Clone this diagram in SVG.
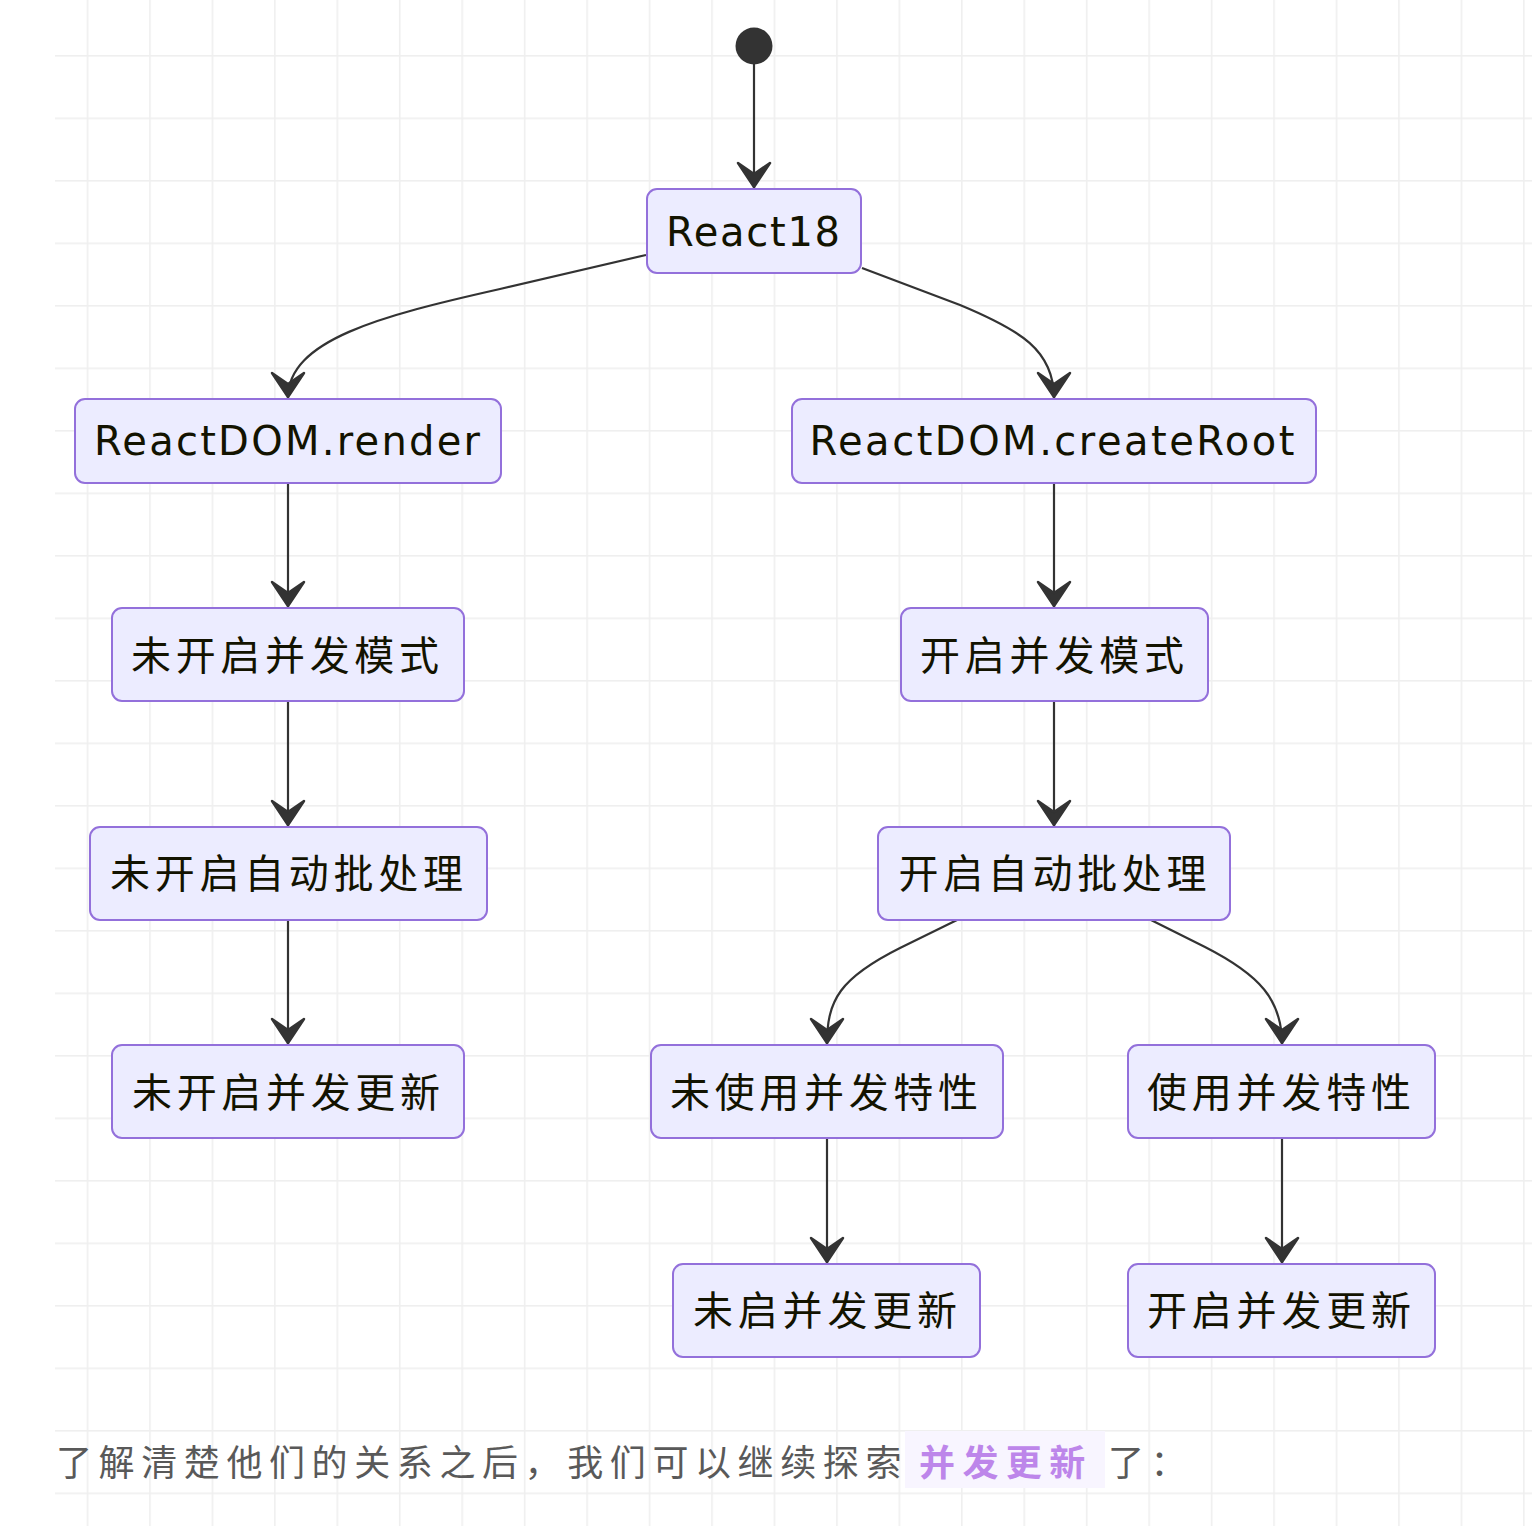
<svg xmlns="http://www.w3.org/2000/svg" width="1532" height="1526" viewBox="0 0 1532 1526">
<style>
.node rect{fill:#ececff;stroke:#9370db;stroke-width:2}
.lt{font-family:"DejaVu Sans","Noto Sans CJK SC",sans-serif;font-size:40px;fill:#131300}
.ct{font-family:"Noto Sans CJK SC",sans-serif;font-size:40px;fill:#131300}
.edge{fill:none;stroke:#333;stroke-width:2.2}
.foot{font-family:"Noto Sans CJK SC",sans-serif;font-size:36px;fill:#595959;letter-spacing:6.6px}
</style>
<defs>
<pattern id="grid" patternUnits="userSpaceOnUse" x="24.25" y="-7.5" width="62.45" height="62.5">
<rect x="0" y="0" width="1.6" height="62.5" fill="#efefef"/>
<rect x="0" y="0" width="62.45" height="1.6" fill="#efefef"/>
</pattern>
<marker id="arr" markerUnits="userSpaceOnUse" viewBox="-32 -22 36 44" refX="0" refY="0" markerWidth="36" markerHeight="44" orient="auto" overflow="visible">
<path d="M-1,0 L-25,-16 L-14,0 L-25,16 Z" fill="#333" stroke="#333" stroke-width="2.5" stroke-linejoin="round"/>
</marker>
</defs>
<rect width="1532" height="1526" fill="#ffffff"/>
<rect x="55" y="0" width="1477" height="1526" fill="url(#grid)"/>

<g id="connectors">
<path class="edge" d="M754,60 L754,188" marker-end="url(#arr)"/>
<path class="edge" d="M646,255 L500,289 C380,316 288,340 288,398" marker-end="url(#arr)"/>
<path class="edge" d="M862,268 L960,305 C1020,330 1054,350 1054,398" marker-end="url(#arr)"/>
<path class="edge" d="M288,484 L288,607" marker-end="url(#arr)"/>
<path class="edge" d="M288,702 L288,826" marker-end="url(#arr)"/>
<path class="edge" d="M288,921 L288,1044" marker-end="url(#arr)"/>
<path class="edge" d="M1054,484 L1054,607" marker-end="url(#arr)"/>
<path class="edge" d="M1054,702 L1054,826" marker-end="url(#arr)"/>
<path class="edge" d="M957,920 L900,948 C840,978 827,1000 827,1044" marker-end="url(#arr)"/>
<path class="edge" d="M1151,920 L1205,947 C1260,975 1282,1000 1282,1044" marker-end="url(#arr)"/>
<path class="edge" d="M827,1139 L827,1263" marker-end="url(#arr)"/>
<path class="edge" d="M1282,1139 L1282,1263" marker-end="url(#arr)"/>
</g>

<g id="start"><circle cx="754" cy="46" r="18.5" fill="#333"/></g>

<g id="react18" class="node">
<rect x="647" y="189" width="214" height="84" rx="10"/>
<text class="lt" x="753" y="246" text-anchor="middle" textLength="174" lengthAdjust="spacing">React18</text>
</g>
<g id="render" class="node">
<rect x="75" y="399" width="426" height="84" rx="10"/>
<text class="lt" x="287" y="455" text-anchor="middle" textLength="386" lengthAdjust="spacing">ReactDOM.render</text>
</g>
<g id="createRoot" class="node">
<rect x="792" y="399" width="524" height="84" rx="10"/>
<text class="lt" x="1052" y="455" text-anchor="middle" textLength="485" lengthAdjust="spacing">ReactDOM.createRoot</text>
</g>
<g id="noConcMode" class="node">
<rect x="112" y="608" width="352" height="93" rx="10"/>
<text class="ct" x="285" y="653" dominant-baseline="central" text-anchor="middle" textLength="308" lengthAdjust="spacing">未开启并发模式</text>
</g>
<g id="concMode" class="node">
<rect x="901" y="608" width="307" height="93" rx="10"/>
<text class="ct" x="1052" y="653" dominant-baseline="central" text-anchor="middle" textLength="264" lengthAdjust="spacing">开启并发模式</text>
</g>
<g id="noAutoBatch" class="node">
<rect x="90" y="827" width="397" height="93" rx="10"/>
<text class="ct" x="286.5" y="871" dominant-baseline="central" text-anchor="middle" textLength="353" lengthAdjust="spacing">未开启自动批处理</text>
</g>
<g id="autoBatch" class="node">
<rect x="878" y="827" width="352" height="93" rx="10"/>
<text class="ct" x="1052.5" y="871" dominant-baseline="central" text-anchor="middle" textLength="308" lengthAdjust="spacing">开启自动批处理</text>
</g>
<g id="noConcUpdate" class="node">
<rect x="112" y="1045" width="352" height="93" rx="10"/>
<text class="ct" x="286" y="1090" dominant-baseline="central" text-anchor="middle" textLength="308" lengthAdjust="spacing">未开启并发更新</text>
</g>
<g id="noConcFeature" class="node">
<rect x="651" y="1045" width="352" height="93" rx="10"/>
<text class="ct" x="824" y="1090" dominant-baseline="central" text-anchor="middle" textLength="308" lengthAdjust="spacing">未使用并发特性</text>
</g>
<g id="concFeature" class="node">
<rect x="1128" y="1045" width="307" height="93" rx="10"/>
<text class="ct" x="1279" y="1090" dominant-baseline="central" text-anchor="middle" textLength="264" lengthAdjust="spacing">使用并发特性</text>
</g>
<g id="noConcUpdate2" class="node">
<rect x="673" y="1264" width="307" height="93" rx="10"/>
<text class="ct" x="825" y="1308" dominant-baseline="central" text-anchor="middle" textLength="264" lengthAdjust="spacing">未启并发更新</text>
</g>
<g id="concUpdate" class="node">
<rect x="1128" y="1264" width="307" height="93" rx="10"/>
<text class="ct" x="1279" y="1308" dominant-baseline="central" text-anchor="middle" textLength="264" lengthAdjust="spacing">开启并发更新</text>
</g>

<g id="footer">
<rect x="905" y="1431" width="200" height="57" fill="#f8f5ff"/>
<text class="foot" x="56" y="1460" dominant-baseline="central">了解清楚他们的关系之后，我们可以继续探索</text>
<text class="foot" x="919" y="1460" dominant-baseline="central" style="fill:#bd86ea;font-weight:bold;letter-spacing:7.4px">并发更新</text>
<text class="foot" x="1108" y="1460" dominant-baseline="central">了：</text>
</g>
</svg>
